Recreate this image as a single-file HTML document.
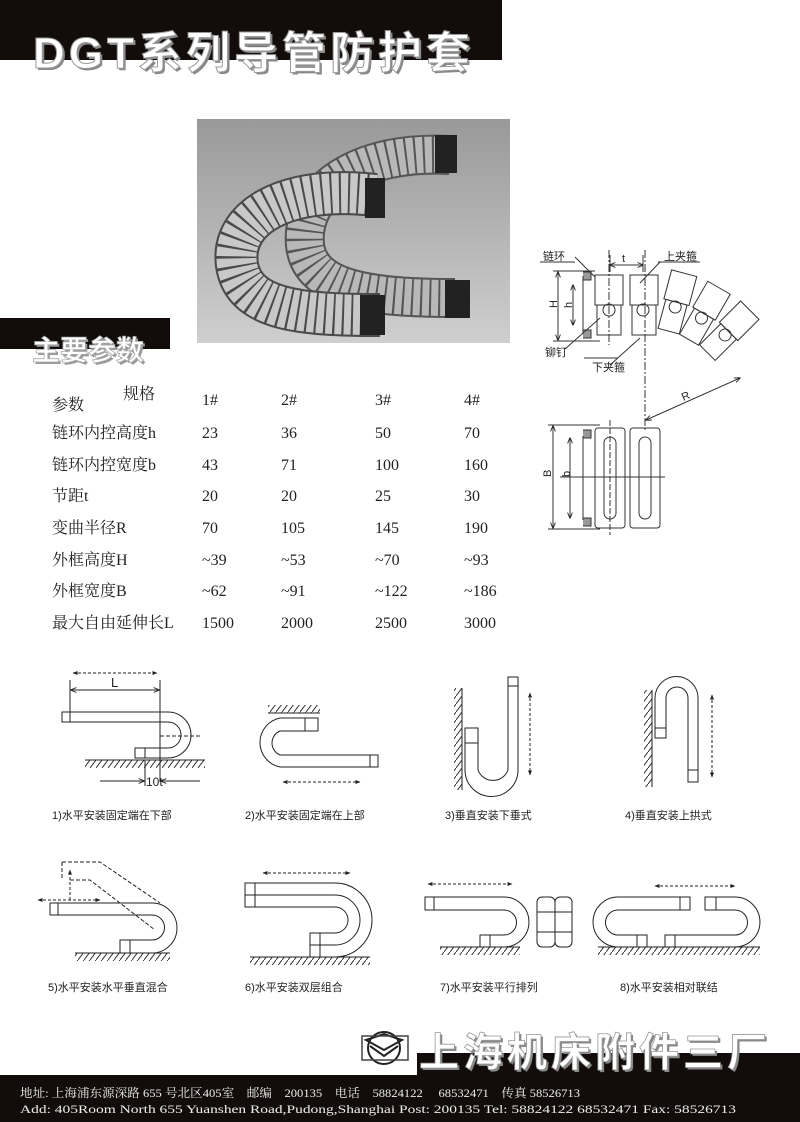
<!DOCTYPE html>
<html><head><meta charset="utf-8"><style>
body{margin:0;background:#fff;}
svg{display:block}
.t{font-family:"Liberation Serif","Noto Serif CJK SC",serif;font-size:16px;fill:#222}
.c{font-family:"Liberation Sans","Noto Sans CJK SC",sans-serif;font-size:11px;fill:#222}
.s{font-family:"Liberation Sans","Noto Sans CJK SC",sans-serif;font-size:11px;fill:#222}
</style></head><body>
<svg width="800" height="1122" viewBox="0 0 800 1122" xmlns="http://www.w3.org/2000/svg">
<defs>
<linearGradient id="ph" x1="0" y1="0" x2="0" y2="1"><stop offset="0" stop-color="#999"/><stop offset="1" stop-color="#cfcfcf"/></linearGradient>
<marker id="a" viewBox="0 0 10 10" refX="9" refY="5" markerWidth="6" markerHeight="6" orient="auto-start-reverse"><path d="M0,1 L10,5 L0,9" fill="none" stroke="#222" stroke-width="1.5"/></marker>
<marker id="f" viewBox="0 0 10 10" refX="9" refY="5" markerWidth="5" markerHeight="5" orient="auto-start-reverse"><path d="M0,1 L10,5 L0,9 z" fill="#222"/></marker>
<pattern id="h" width="6" height="8" patternUnits="userSpaceOnUse"><path d="M6,0 L0,8" stroke="#333" stroke-width="1"/></pattern>
</defs>
<!-- title band -->
<rect x="0" y="0" width="502" height="60" fill="#120c0a"/>
<text x="35" y="70" textLength="437" lengthAdjust="spacing" font-family="Liberation Sans,'Noto Sans CJK SC',sans-serif" font-weight="bold" font-size="44" fill="#888">DGT系列导管防护套</text>
<text x="33" y="68" textLength="437" lengthAdjust="spacing" font-family="Liberation Sans,'Noto Sans CJK SC',sans-serif" font-weight="bold" font-size="44" fill="#fff" stroke="#999" stroke-width="1">DGT系列导管防护套</text>
<!-- photo -->
<rect x="197" y="119" width="313" height="224" fill="url(#ph)"/>
<path d="M450,155 C360,150 300,190 305,245 C310,290 370,298 455,298" fill="none" stroke="#555" stroke-width="40"/>
<path d="M450,155 C360,150 300,190 305,245 C310,290 370,298 455,298" fill="none" stroke="#b8b8b8" stroke-width="36" stroke-dasharray="7 2"/>
<rect x="435" y="135" width="22" height="38" fill="#222"/><rect x="445" y="280" width="25" height="38" fill="#222"/>
<path d="M375,195 C290,185 230,215 237,265 C244,310 300,315 380,315" fill="none" stroke="#4a4a4a" stroke-width="44"/>
<path d="M375,195 C290,185 230,215 237,265 C244,310 300,315 380,315" fill="none" stroke="#c8c8c8" stroke-width="40" stroke-dasharray="7 2"/>
<rect x="365" y="178" width="20" height="40" fill="#222"/><rect x="360" y="295" width="25" height="40" fill="#222"/>
<!-- section band -->
<rect x="0" y="318" width="170" height="31" fill="#120c0a"/>
<text x="34" y="362" font-family="'Noto Sans CJK SC',sans-serif" font-weight="bold" font-size="28" fill="#999">主要参数</text>
<text x="32" y="360" font-family="'Noto Sans CJK SC',sans-serif" font-weight="bold" font-size="28" fill="#fff" stroke="#aaa" stroke-width="0.8">主要参数</text>
<!-- table -->
<g class="t">
<text x="123" y="399">规格</text><text x="52" y="410">参数</text>
<text x="202" y="405">1#</text><text x="281" y="405">2#</text><text x="375" y="405">3#</text><text x="464" y="405">4#</text>
<text x="52" y="438">链环内控高度h</text><text x="202" y="438">23</text><text x="281" y="438">36</text><text x="375" y="438">50</text><text x="464" y="438">70</text>
<text x="52" y="470">链环内控宽度b</text><text x="202" y="470">43</text><text x="281" y="470">71</text><text x="375" y="470">100</text><text x="464" y="470">160</text>
<text x="52" y="501">节距t</text><text x="202" y="501">20</text><text x="281" y="501">20</text><text x="375" y="501">25</text><text x="464" y="501">30</text>
<text x="52" y="533">变曲半径R</text><text x="202" y="533">70</text><text x="281" y="533">105</text><text x="375" y="533">145</text><text x="464" y="533">190</text>
<text x="52" y="565">外框高度H</text><text x="202" y="565">~39</text><text x="281" y="565">~53</text><text x="375" y="565">~70</text><text x="464" y="565">~93</text>
<text x="52" y="596">外框宽度B</text><text x="202" y="596">~62</text><text x="281" y="596">~91</text><text x="375" y="596">~122</text><text x="464" y="596">~186</text>
<text x="52" y="628">最大自由延伸长L</text><text x="202" y="628">1500</text><text x="281" y="628">2000</text><text x="375" y="628">2500</text><text x="464" y="628">3000</text>
</g>
<!-- technical diagram -->
<g fill="none" stroke="#333" stroke-width="1">
<rect x="595" y="275" width="28" height="30"/><rect x="597" y="305" width="24" height="30"/>
<rect x="630" y="275" width="28" height="30"/><rect x="632" y="305" width="24" height="30"/>
<circle cx="609" cy="310" r="6"/><circle cx="643" cy="310" r="6"/>
<path d="M583,272 h8 v8 h-8 M583,330 h8 v8 h-8" fill="#999"/>
<path d="M583,276 v58"/>
<g transform="rotate(15 676 300)"><rect x="664" y="272" width="26" height="30"/><rect x="666" y="302" width="22" height="30"/><circle cx="677" cy="307" r="6"/></g>
<g transform="rotate(30 705 312)"><rect x="692" y="284" width="26" height="30"/><rect x="694" y="314" width="22" height="30"/><circle cx="705" cy="319" r="6"/></g>
<g transform="rotate(45 730 330)"><rect x="717" y="302" width="26" height="30"/><rect x="719" y="332" width="22" height="30"/><circle cx="730" cy="337" r="6"/></g>
<path d="M645,250 V430" stroke-dasharray="8 2 2 2"/><path d="M609,250 V345" stroke-dasharray="8 2 2 2"/>
<path d="M610,265 H643" marker-start="url(#a)" marker-end="url(#a)"/>
<path d="M610,255 V272 M643,255 V272"/>
<path d="M558,272 V340" marker-start="url(#a)" marker-end="url(#a)"/><path d="M553,271 H595 M553,341 H600"/>
<path d="M573,285 V325" marker-start="url(#a)" marker-end="url(#a)"/>
<path d="M646,420 L740,378" marker-start="url(#a)" marker-end="url(#a)"/>
<path d="M575,257 L595,277 M660,262 L640,283 M565,349 L600,318 M610,365 L640,338"/>
<path d="M540,262 H575 M584,358 H618 M658,262 H700"/>
<rect x="595" y="428" width="30" height="100" rx="3"/><rect x="630" y="428" width="30" height="100" rx="3"/>
<rect x="604" y="437" width="12" height="82" rx="6"/><rect x="639" y="437" width="12" height="82" rx="6"/>
<path d="M583,430 h8 v8 h-8 M583,518 h8 v8 h-8" fill="#999"/><path d="M583,436 V520"/>
<path d="M553,426 V528" marker-start="url(#a)" marker-end="url(#a)"/><path d="M548,425 H600 M548,529 H600"/>
<path d="M570,438 V518" marker-start="url(#a)" marker-end="url(#a)"/>
<path d="M560,477 H665"/><path d="M610,420 V535" stroke-dasharray="6 2"/>
</g>
<g class="s"><text x="543" y="260">链环</text><text x="622" y="262">t</text><text x="664" y="260">上夹箍</text>
<text x="545" y="356">铆钉</text><text x="592" y="371">下夹箍</text>
<text x="553" y="312" transform="rotate(-90 553 308)">H</text><text x="568" y="312" transform="rotate(-90 568 308)">h</text>
<text x="682" y="400" transform="rotate(-24 685 397)">R</text>
<text x="547" y="481" transform="rotate(-90 547 477)">B</text><text x="566" y="481" transform="rotate(-90 566 477)">b</text></g>
<!-- installation diagrams -->
<g fill="none" stroke="#222" stroke-width="1">
<!-- 1 -->
<path d="M62,712 H168 A23,23 0 0 1 168,758 H135 V748 H168 A13,13 0 0 0 168,722 H62 Z"/><path d="M70,712 V722 M145,748 V758"/>
<rect x="85" y="760" width="120" height="8" fill="url(#h)" stroke="none"/><path d="M85,760 H205"/>
<path d="M160,680 V782 M70,680 V712"/>
<path d="M71,690 H159" marker-start="url(#a)" marker-end="url(#a)"/>
<path d="M73,673 H157" stroke-dasharray="3 2" marker-start="url(#f)" marker-end="url(#f)"/>
<path d="M160,736 H200" stroke-dasharray="4 2"/>
<path d="M100,781 H144" marker-end="url(#a)"/><path d="M200,781 H161" marker-end="url(#a)"/>
<path d="M145,760 V786"/>
<!-- 2 -->
<rect x="268" y="705" width="52" height="8" fill="url(#h)" stroke="none"/><path d="M268,713 H320"/>
<path d="M318,718 H280 A25,25 0 0 0 280,767 H378 V755 H280 A13,13 0 0 1 280,731 H318 Z"/><path d="M305,718 V731 M370,755 V767"/>
<path d="M283,782 H360" stroke-dasharray="3 2" marker-start="url(#f)" marker-end="url(#f)"/>
<!-- 3 -->
<rect x="454" y="688" width="8" height="102" fill="url(#h)" stroke="none"/><path d="M462,688 V790"/>
<path d="M465,728 V770 A26,26 0 0 0 518,770 V677 H508 V770 A16,16 0 0 1 478,770 V728 Z"/><path d="M465,743 H478 M508,686 H518"/>
<path d="M530,693 V775" stroke-dasharray="3 2" marker-start="url(#f)" marker-end="url(#f)"/>
<!-- 4 -->
<rect x="644" y="690" width="8" height="97" fill="url(#h)" stroke="none"/><path d="M652,690 V787"/>
<path d="M655,738 V698 A21.5,21.5 0 0 1 698,698 V782 H688 V698 A11,11 0 0 0 666,698 V738 Z"/><path d="M655,728 H666 M688,770 H698"/>
<path d="M712,695 V777" stroke-dasharray="3 2" marker-start="url(#f)" marker-end="url(#f)"/>
<!-- 5 -->
<path d="M50,903 H152 A25,25 0 0 1 152,953 H120 V940 H152 A12,12 0 0 0 152,915 H50 Z"/><path d="M58,903 V915 M130,940 V953"/>
<rect x="75" y="953" width="95" height="8" fill="url(#h)" stroke="none"/><path d="M75,953 H170"/>
<path d="M62,862 H100 L160,903 M62,862 V880 M70,880 H90 L155,930" stroke-dasharray="4 2"/>
<path d="M70,900 V870" stroke-dasharray="3 2" marker-end="url(#f)"/>
<path d="M38,900 H100" stroke-dasharray="3 2" marker-start="url(#f)" marker-end="url(#f)"/>
<!-- 6 -->
<path d="M245,883 H335 A37,37 0 0 1 335,957 H310 V933 H335 A13,13 0 0 0 335,907 H245 Z"/>
<path d="M245,895 H335 A25,25 0 0 1 335,945 H310"/><path d="M255,883 V907 M320,933 V957"/>
<rect x="250" y="957" width="120" height="8" fill="url(#h)" stroke="none"/><path d="M250,957 H370"/>
<path d="M263,873 H350" stroke-dasharray="3 2" marker-start="url(#f)" marker-end="url(#f)"/>
<!-- 7 -->
<path d="M425,897 H504 A25,25 0 0 1 504,947 H480 V935 H504 A12.5,12.5 0 0 0 504,910 H425 Z"/><path d="M434,897 V910 M490,935 V947"/>
<rect x="440" y="947" width="80" height="8" fill="url(#h)" stroke="none"/><path d="M440,947 H520"/>
<path d="M428,884 H512" stroke-dasharray="3 2" marker-start="url(#f)" marker-end="url(#f)"/>
<rect x="537" y="897" width="18" height="50" rx="5"/><rect x="555" y="897" width="17" height="50" rx="5"/><path d="M537,912 H572 M537,932 H572"/>
<!-- 8 -->
<path d="M690,897 H618 A25,25 0 0 0 618,947 H647 V935 H618 A12.5,12.5 0 0 1 618,910 H690 Z"/><path d="M680,897 V910 M637,935 V947"/>
<path d="M705,897 H735 A25,25 0 0 1 735,947 H665 V935 H735 A12.5,12.5 0 0 0 735,910 H705 Z"/><path d="M716,897 V910 M675,935 V947"/>
<rect x="598" y="947" width="162" height="8" fill="url(#h)" stroke="none"/><path d="M598,947 H760"/>
<path d="M655,886 H735" stroke-dasharray="3 2" marker-start="url(#f)" marker-end="url(#f)"/>
</g>
<g font-family="Liberation Sans,sans-serif" font-size="13" fill="#222"><text x="111" y="687">L</text><text x="146" y="786" font-size="12">10t</text></g>
<g class="c">
<text x="52" y="819">1)水平安装固定端在下部</text><text x="245" y="819">2)水平安装固定端在上部</text>
<text x="445" y="819">3)垂直安装下垂式</text><text x="625" y="819">4)垂直安装上拱式</text>
<text x="48" y="991">5)水平安装水平垂直混合</text><text x="245" y="991">6)水平安装双层组合</text>
<text x="440" y="991">7)水平安装平行排列</text><text x="620" y="991">8)水平安装相对联结</text>
</g>
<!-- footer -->
<rect x="417" y="1053" width="383" height="25" fill="#120c0a"/>
<rect x="0" y="1075" width="800" height="47" fill="#120c0a"/>
<g fill="none" stroke="#222" stroke-width="2"><circle cx="384" cy="1048" r="16"/><path d="M366,1040 L384,1034 L402,1040 L384,1050 Z M370,1046 L384,1056 L398,1046" /></g>
<rect x="362" y="1036" width="46" height="24" fill="none" stroke="#444" stroke-width="1.5"/>
<text x="421" y="1068" font-family="'Noto Sans CJK SC',sans-serif" font-weight="bold" font-size="40" fill="#888" letter-spacing="4">上海机床附件三厂</text>
<text x="419" y="1066" font-family="'Noto Sans CJK SC',sans-serif" font-weight="bold" font-size="40" fill="#fff" stroke="#999" stroke-width="0.8" letter-spacing="4">上海机床附件三厂</text>
<g font-family="'Liberation Serif','Noto Serif CJK SC',serif" font-size="12" fill="#eee">
<text x="20" y="1097" textLength="560" lengthAdjust="spacingAndGlyphs">地址: 上海浦东源深路 655 号北区405室　邮编　200135　电话　58824122　 68532471　传真 58526713</text>
<text x="20" y="1113" textLength="716" lengthAdjust="spacingAndGlyphs">Add:  405Room North 655 Yuanshen Road,Pudong,Shanghai  Post: 200135  Tel:   58824122   68532471   Fax:  58526713</text>
</g>
</svg>
</body></html>
